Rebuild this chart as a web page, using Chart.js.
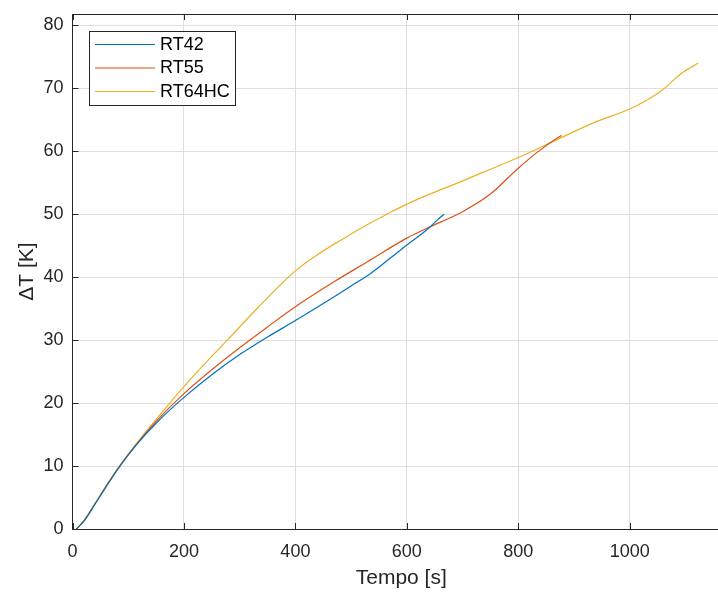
<!DOCTYPE html>
<html>
<head>
<meta charset="utf-8">
<script src="https://cdn.jsdelivr.net/npm/chart.js@4/dist/chart.umd.min.js"></script>
<style>
  html, body { margin: 0; padding: 0; background: #ffffff; overflow: hidden; }
  #wrap { width: 740px; height: 594px; }
</style>
</head>
<body>
<div id="wrap"><canvas id="c" width="740" height="594"></canvas></div>
<script>
// Temperature rise of three PCM samples over time
const seriesNames = ['RT42', 'RT55', 'RT64HC'];

const rt42Time  = [7, 20, 40, 60, 85, 115, 150, 200, 250, 300, 350, 400, 450, 500, 535, 570, 600, 637, 655, 667];
const rt42Delta = [0, 1.2, 3.9, 6.7, 10, 13.4, 16.8, 20.9, 24.5, 27.7, 30.5, 33.1, 35.8, 38.6, 40.6, 43.0, 45.1, 47.6, 49.1, 50.0];

const rt55Time  = [7, 20, 40, 60, 85, 115, 150, 200, 250, 300, 350, 400, 470, 530, 600, 637, 700, 750, 800, 835, 870, 878];
const rt55Delta = [0, 1.2, 3.9, 6.7, 10, 13.5, 17.1, 21.5, 25.3, 28.8, 32.1, 35.3, 39.3, 42.5, 46.2, 47.8, 50.4, 53.2, 57.3, 59.9, 62.1, 62.5];

const rt64Time  = [7, 20, 40, 60, 85, 115, 150, 200, 240, 280, 330, 370, 400, 440, 480, 520, 560, 600, 700, 800, 878, 940, 1000, 1055, 1095, 1123];
const rt64Delta = [0, 1.3, 4.0, 6.8, 10.1, 13.6, 17.4, 22.6, 26.5, 30.2, 34.9, 38.5, 41.0, 43.6, 45.8, 47.9, 49.8, 51.6, 55.3, 59.0, 62.2, 64.7, 66.7, 69.5, 72.5, 74.0];

const xTickValues = [0, 200, 400, 600, 800, 1000];
const yTickValues = [0, 10, 20, 30, 40, 50, 60, 70, 80];

const seriesColors = ['#0072BD', '#D95319', '#EDB120'];
const axisColor = '#262626';
const gridColor = '#dfdfdf';
const FONT = '"Liberation Sans", Arial, Helvetica, sans-serif';

function toPoints(xs, ys) {
  return xs.map((x, i) => ({ x: x, y: ys[i] }));
}

const seriesData = [
  toPoints(rt42Time, rt42Delta),
  toPoints(rt55Time, rt55Delta),
  toPoints(rt64Time, rt64Delta)
];

// Box, inward tick marks and the in-plot legend
const framePlugin = {
  id: 'frame',
  afterDatasetsDraw(chart) {
    const ctx = chart.ctx;
    const a = chart.chartArea;
    const xs = chart.scales.x, ys = chart.scales.y;
    const tl = 6;
    ctx.save();
    ctx.strokeStyle = axisColor;
    ctx.lineWidth = 1;
    ctx.beginPath();
    ctx.moveTo(a.left, a.top + 0.5);
    ctx.lineTo(a.right, a.top + 0.5);
    ctx.moveTo(a.right - 0.5, a.top);
    ctx.lineTo(a.right - 0.5, a.bottom);
    xTickValues.forEach(v => {
      const px = Math.round(xs.getPixelForValue(v)) + 0.5;
      ctx.moveTo(px, a.bottom);
      ctx.lineTo(px, a.bottom - tl);
      ctx.moveTo(px, a.top);
      ctx.lineTo(px, a.top + tl);
    });
    yTickValues.forEach(v => {
      const py = Math.round(ys.getPixelForValue(v)) + 0.5;
      ctx.moveTo(a.left, py);
      ctx.lineTo(a.left + tl, py);
      ctx.moveTo(a.right, py);
      ctx.lineTo(a.right - tl, py);
    });
    ctx.stroke();

    // legend box
    const bx = 89.5, by = 31.5, bw = 146, bh = 74;
    ctx.fillStyle = '#ffffff';
    ctx.fillRect(bx, by, bw, bh);
    ctx.strokeStyle = axisColor;
    ctx.strokeRect(bx, by, bw, bh);
    ctx.font = '18px ' + FONT;
    ctx.textBaseline = 'middle';
    ctx.textAlign = 'left';
    const rows = [44, 67.5, 91];
    chart.data.datasets.forEach((ds, i) => {
      ctx.strokeStyle = ds.borderColor;
      ctx.lineWidth = 1;
      ctx.beginPath();
      ctx.moveTo(95, rows[i] + 0.5);
      ctx.lineTo(155, rows[i] + 0.5);
      ctx.stroke();
      ctx.fillStyle = '#000000';
      ctx.fillText(ds.label, 160, rows[i] + 1);
    });
    ctx.restore();
  }
};

new Chart(document.getElementById('c'), {
  type: 'line',
  data: {
    datasets: seriesNames.map((name, i) => ({
      label: name,
      data: seriesData[i],
      borderColor: seriesColors[i],
      backgroundColor: seriesColors[i],
      borderWidth: 1.2,
      pointRadius: 0,
      fill: false,
      cubicInterpolationMode: 'monotone'
    }))
  },
  options: {
    responsive: false,
    devicePixelRatio: 1,
    animation: false,
    layout: { padding: { left: 0, right: 10, top: 14, bottom: 0 } },
    plugins: { legend: { display: false }, tooltip: { enabled: false } },
    scales: {
      x: {
        type: 'linear',
        min: 0,
        max: 1180,
        afterBuildTicks: s => { s.ticks = xTickValues.map(v => ({ value: v })); },
        afterFit: s => { s.height = 65; s.paddingLeft = 0; s.paddingRight = 0; },
        grid: { color: gridColor, lineWidth: 1, drawTicks: false },
        border: { display: true, color: axisColor, width: 1 },
        ticks: { color: axisColor, font: { family: FONT, size: 18 }, padding: 12, maxRotation: 0,
                 callback: v => String(v) },
        title: { display: true, text: 'Tempo [s]', color: axisColor, font: { family: FONT, size: 21 }, padding: { top: 0, bottom: 3 } }
      },
      y: {
        type: 'linear',
        min: 0,
        max: 81.8,
        afterBuildTicks: s => { s.ticks = yTickValues.map(v => ({ value: v })); },
        afterFit: s => { s.width = 72.5; s.paddingTop = 0; s.paddingBottom = 0; },
        grid: { color: gridColor, lineWidth: 1, drawTicks: false },
        border: { display: true, color: axisColor, width: 1 },
        ticks: { color: axisColor, font: { family: FONT, size: 18 }, padding: 9, callback: v => String(v) },
        title: { display: true, text: 'ΔT [K]', color: axisColor, font: { family: FONT, size: 21 }, padding: { top: 15, bottom: 0 } }
      }
    }
  },
  plugins: [framePlugin]
});
</script>
</body>
</html>
